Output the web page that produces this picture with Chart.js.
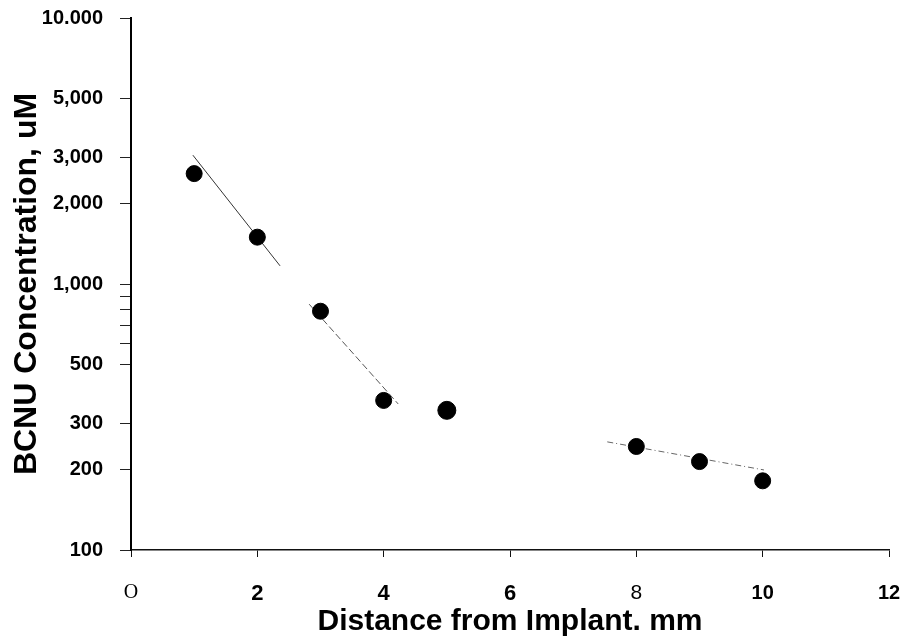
<!DOCTYPE html>
<html>
<head>
<meta charset="utf-8">
<title>BCNU Concentration vs Distance from Implant</title>
<script src="https://cdn.jsdelivr.net/npm/chart.js@4.4.0/dist/chart.umd.min.js"></script>
<style>
  html, body { margin: 0; padding: 0; background: #fff; }
</style>
</head>
<body>
<canvas id="bcnu-chart" width="905" height="644"></canvas>
<script>
// ------------------------
// DATA
// ------------------------

// measured points
const distance = [1, 2, 3, 4, 5, 8, 9, 10]
const concentration = [2600, 1500, 790, 365, 335, 245, 215, 182]
const pointSizes = [8, 8, 8, 8, 9, 8, 8, 8]

// fitted segments (two ends each)
const fitNearX = [0.98, 2.36]
const fitNearY = [3050, 1170]
const fitMidX = [2.82, 4.23]
const fitMidY = [840, 354]
const fitFarX = [7.54, 10.02]
const fitFarY = [255, 200]

// tick labels
const yTickValues = [100, 200, 300, 500, 600, 700, 800, 900, 1000, 2000, 3000, 5000, 10000]
const yTickLabels = ['100', '200', '300', '500', '', '', '', '', '1,000', '2,000', '3,000', '5,000', '10.000']
const xTickLabels = ['O', '2', '4', '6', '8', '10', '12']

// ------------------------
// HELPERS
// ------------------------

const toPoints = (xs, ys) => xs.map((x, i) => ({ x: x, y: ys[i] }))

const sans = 'Liberation Sans, Arial, sans-serif'

// the scan mixes fonts on the x labels, keep that look
const xTickFonts = [
  { family: 'Liberation Serif, serif', size: 20, weight: 'normal' },
  { family: sans, size: 22, weight: 'bold' },
  { family: sans, size: 22, weight: 'bold' },
  { family: sans, size: 22, weight: 'bold' },
  { family: sans, size: 21, weight: 'normal' },
  { family: sans, size: 20, weight: 'bold' },
  { family: sans, size: 20, weight: 'bold' }
]

const fitLine = (xs, ys, color, dash) => ({
  type: 'scatter',
  data: toPoints(xs, ys),
  showLine: true,
  borderColor: color,
  borderWidth: 1,
  borderDash: dash,
  pointRadius: 0,
  pointHoverRadius: 0,
  fill: false
})

// ------------------------
// CHART
// ------------------------

const bcnuCanvas = document.querySelector('#bcnu-chart')

const bcnuData = {
  datasets: [
    {
      label: 'BCNU',
      data: toPoints(distance, concentration),
      backgroundColor: '#000',
      borderColor: '#000',
      pointRadius: pointSizes,
      pointHoverRadius: pointSizes,
      order: 0
    },
    fitLine(fitNearX, fitNearY, '#333', []),
    fitLine(fitMidX, fitMidY, '#555', [7, 3]),
    fitLine(fitFarX, fitFarY, '#666', [6, 3, 1, 3])
  ]
}

const bcnuOptions = {
  responsive: false,
  animation: false,
  layout: {
    padding: { top: 18, right: 16, left: 0, bottom: 0 }
  },
  plugins: {
    legend: { display: false },
    tooltip: { enabled: false }
  },
  scales: {
    x: {
      type: 'linear',
      min: 0,
      max: 12,
      afterFit: (scale) => {
        scale.height = 94
        scale.paddingLeft = 0
        scale.paddingRight = 0
      },
      border: { display: true, color: '#111', width: 1.5 },
      grid: { drawOnChartArea: false, drawTicks: true, tickLength: 7, color: '#111' },
      ticks: {
        stepSize: 2,
        autoSkip: false,
        maxRotation: 0,
        padding: 24,
        color: '#000',
        font: (ctx) => xTickFonts[ctx.index] || xTickFonts[4],
        callback: (value, index) => xTickLabels[index]
      },
      title: {
        display: true,
        text: 'Distance from Implant. mm',
        color: '#000',
        font: { family: sans, size: 30, weight: 'bold' },
        padding: { top: 0, bottom: 4 }
      }
    },
    y: {
      type: 'logarithmic',
      min: 100,
      max: 10000,
      afterFit: (scale) => {
        scale.width = 131
        scale.paddingTop = 0
        scale.paddingBottom = 0
      },
      afterBuildTicks: (scale) => {
        scale.ticks = yTickValues.map(v => ({ value: v }))
      },
      border: { display: true, color: '#000', width: 2 },
      grid: { drawOnChartArea: false, drawTicks: true, tickLength: 11, color: '#222' },
      ticks: {
        autoSkip: false,
        padding: 17,
        color: '#000',
        font: { family: sans, size: 20, weight: 'bold' },
        callback: (value, index) => yTickLabels[index]
      },
      title: {
        display: true,
        text: 'BCNU Concentration, uM',
        color: '#000',
        font: { family: sans, size: 32, weight: 'bold' },
        padding: { top: 8, bottom: 0 }
      }
    }
  }
}

let bcnuChart = new Chart(bcnuCanvas, {
  type: 'scatter',
  data: bcnuData,
  options: bcnuOptions
})
</script>
</body>
</html>
